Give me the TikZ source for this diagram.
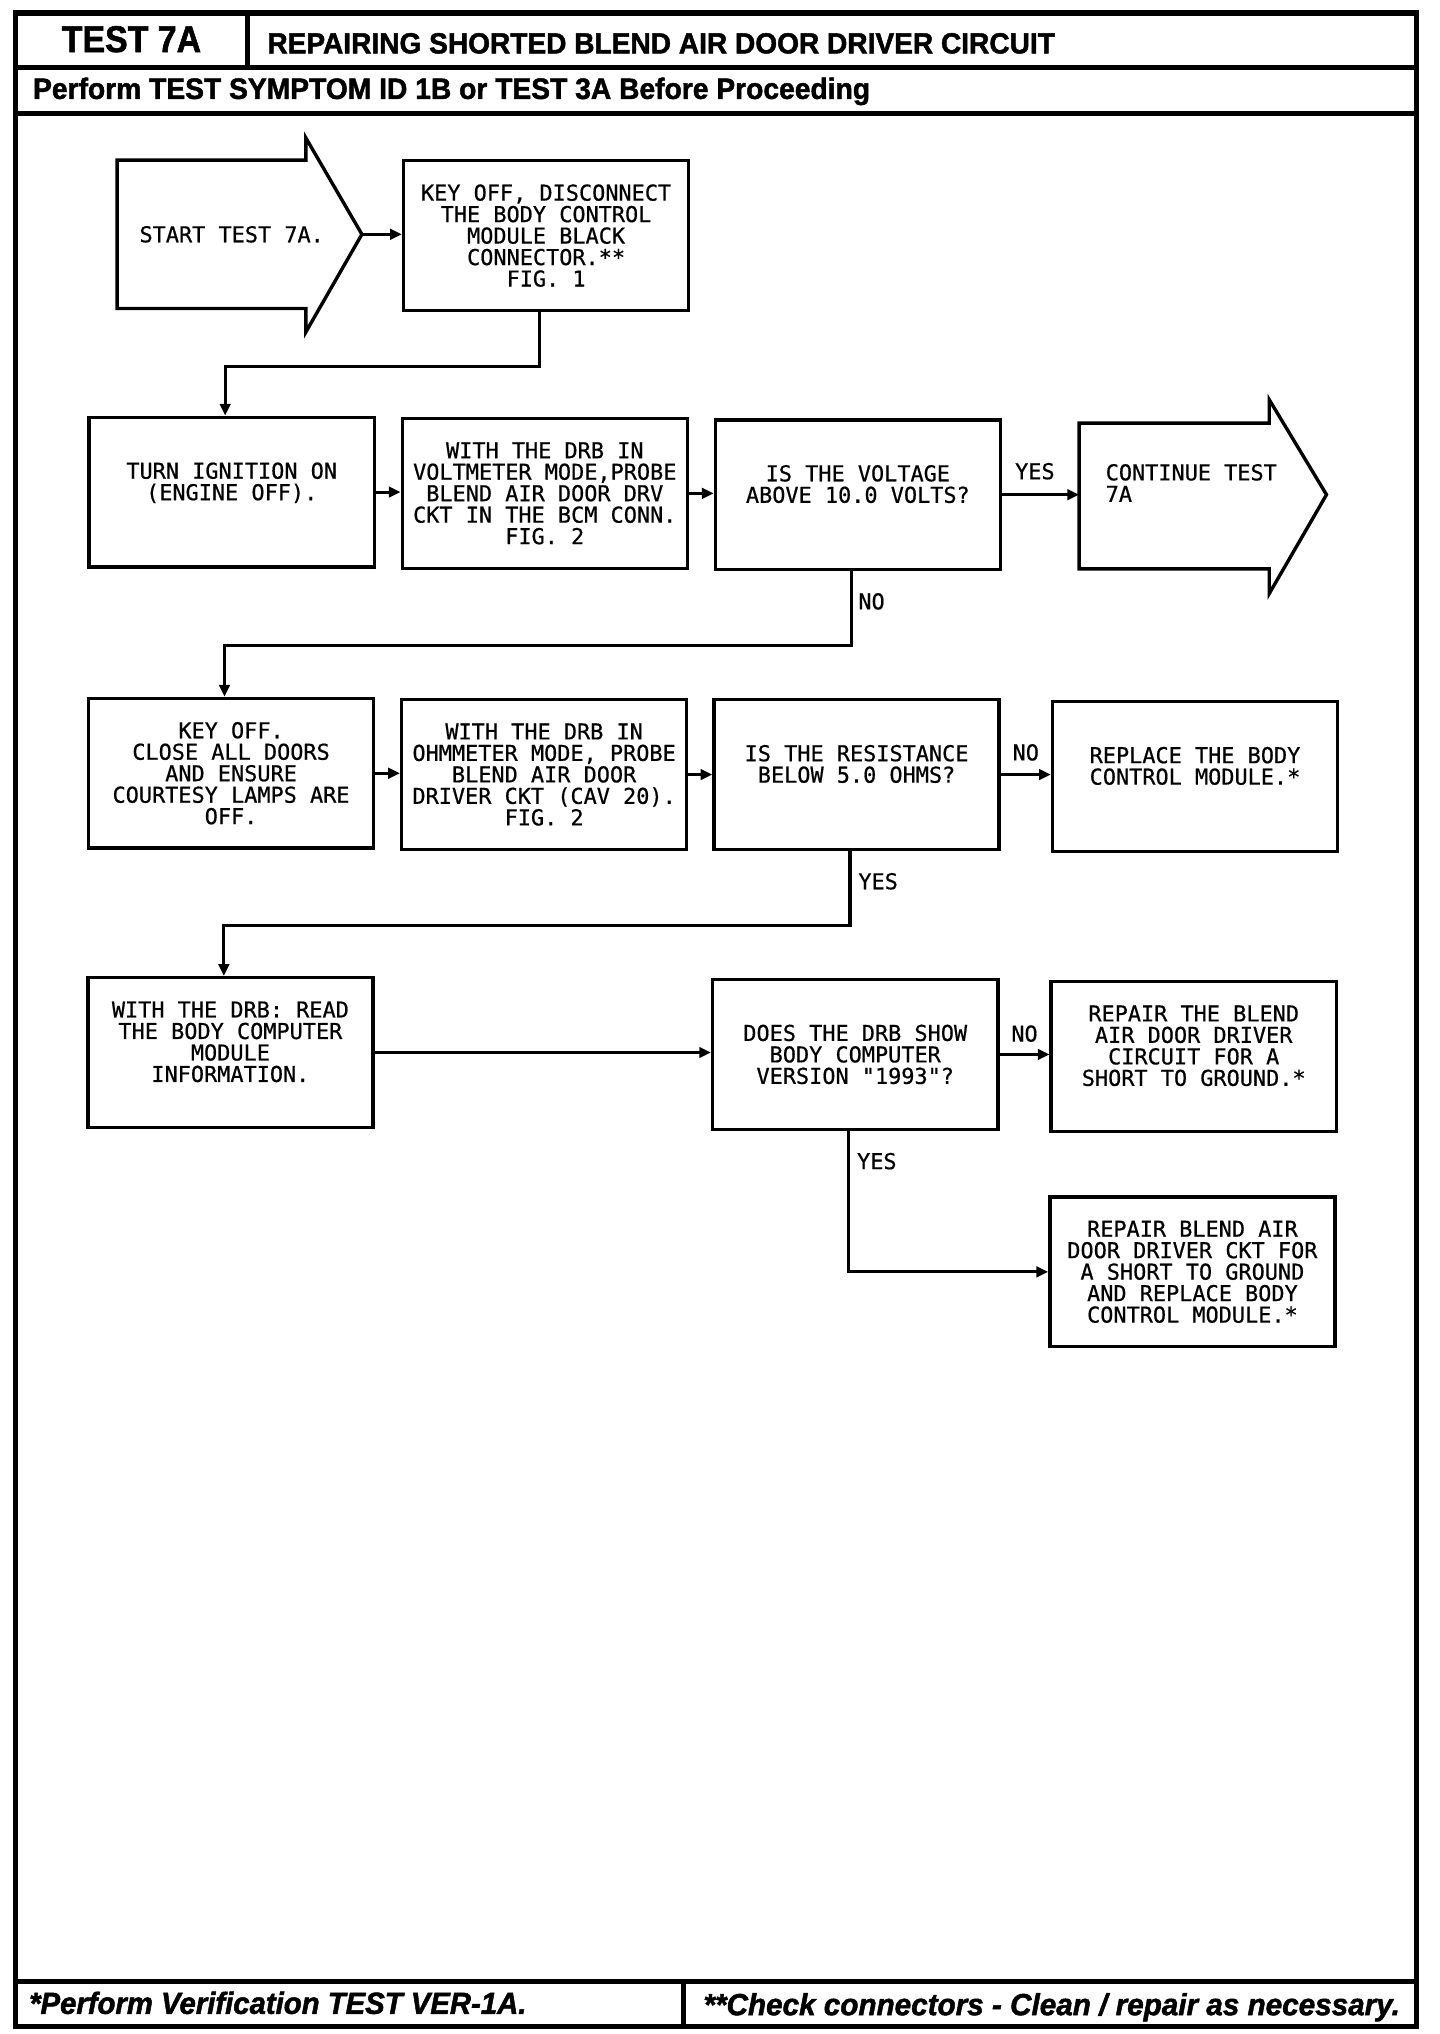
\documentclass[tikz,border=0pt]{standalone}
\usepackage{fontspec}
\usepackage{graphicx}
\usetikzlibrary{arrows.meta}
\newfontfamily\hdrfont[FakeBold=1.6]{Liberation Sans}
\newfontfamily\plotfont[FakeBold=0.6]{DejaVu Sans Mono}
\begin{document}
\begin{tikzpicture}[x=0.5pt,y=-0.5pt,
  frame/.style={line width=2pt},
  box/.style={draw, line width=1.3pt, minimum width=109.5pt, minimum height=57.5pt, inner sep=1pt, align=center, font=\plotfont\fontsize{8.4}{8.25}\selectfont},
  conn/.style={line width=1.2pt, -{Triangle[length=4.5pt,width=4pt]}},
  shapeline/.style={line width=1.3pt, line join=miter},
  lbl/.style={font=\plotfont\fontsize{8.4}{8.25}\selectfont, inner sep=0pt},
  hdr/.style={inner sep=0pt, anchor=base west, font=\hdrfont\bfseries},
]
\fill[white] (0,0) rectangle (1106,1562.5);
\useasboundingbox (0,0) rectangle (1106,1562.5);

% frame
\draw[frame] (12,10) rectangle (1088,1557);
\draw[frame] (12,52) -- (1088,52);
\draw[frame] (190,10) -- (190,52);
\draw[frame] (12,87) -- (1088,87);
\draw[frame] (12,1522) -- (1088,1522);
\draw[frame] (525,1522) -- (525,1557);

% header / footer texts
\node[hdr, anchor=base] (t7a) at (101,40) {\resizebox{53.5pt}{10pt}{TEST 7A}};
\node[hdr] (title) at (205,41) {\resizebox{302.5pt}{7.8pt}{REPAIRING SHORTED BLEND AIR DOOR DRIVER CIRCUIT}};
\node[hdr] (pre) at (25,76) {\resizebox{321.5pt}{8.2pt}{Perform TEST SYMPTOM ID 1B or TEST 3A Before Proceeding}};
\node[hdr] (fl) at (22,1547) {\resizebox{191pt}{8.5pt}{\itshape *Perform Verification TEST VER-1A.}};
\node[hdr] (fr) at (540,1548) {\resizebox{267.5pt}{8.5pt}{\itshape **Check connectors - Clean / repair as necessary.}};

% start arrow
\draw[shapeline] (90,123) -- (235,123) -- (235,106) -- (278,180) -- (235,255) -- (235,237) -- (90,237) -- cycle;
\coordinate (stip) at (278,180);
\node[lbl] (stxt) at (178,180) {START TEST 7A.};

% continue arrow
\draw[shapeline] (829,325) -- (975,325) -- (975,307) -- (1019,380) -- (975,456) -- (975,437) -- (829,437) -- cycle;
\coordinate (cin) at (829,380);
\node[lbl, anchor=west, align=left] (ctxt) at (849,371) {CONTINUE TEST\\7A};

% boxes
\node[box] (b1) at (419.5,181) {KEY OFF, DISCONNECT\\THE BODY CONTROL\\MODULE BLACK\\CONNECTOR.**\\FIG. 1};
\node[box] (b2) at (178,378) {TURN IGNITION ON\\(ENGINE OFF).\\\mbox{}};
\node[box] (b3) at (418.5,379) {WITH THE DRB IN\\VOLTMETER MODE,PROBE\\BLEND AIR DOOR DRV\\CKT IN THE BCM CONN.\\FIG. 2};
\node[box] (b4) at (659,380) {IS THE VOLTAGE\\ABOVE 10.0 VOLTS?\\\mbox{}};
\node[box] (b5) at (177.5,594) {KEY OFF.\\CLOSE ALL DOORS\\AND ENSURE\\COURTESY LAMPS ARE\\OFF.};
\node[box] (b6) at (418,595) {WITH THE DRB IN\\OHMMETER MODE, PROBE\\BLEND AIR DOOR\\DRIVER CKT (CAV 20).\\FIG. 2};
\node[box] (b7) at (658,595) {IS THE RESISTANCE\\BELOW 5.0 OHMS?\\\mbox{}};
\node[box] (b8) at (918,596.5) {REPLACE THE BODY\\CONTROL MODULE.*\\\mbox{}};
\node[box] (b9) at (177,808.5) {WITH THE DRB: READ\\THE BODY COMPUTER\\MODULE\\INFORMATION.\\\mbox{}};
\node[box] (b10) at (657,810) {DOES THE DRB SHOW\\BODY COMPUTER\\VERSION "1993"?};
\node[box] (b11) at (917,811.5) {REPAIR THE BLEND\\AIR DOOR DRIVER\\CIRCUIT FOR A\\SHORT TO GROUND.*\\\mbox{}};
\node[box] (b12) at (916,977) {REPAIR BLEND AIR\\DOOR DRIVER CKT FOR\\A SHORT TO GROUND\\AND REPLACE BODY\\CONTROL MODULE.*};

% connectors
\draw[conn] (stip) -- (stip -| b1.west);
\draw[conn] ([xshift=-2.5pt]b1.south) -- ++(0,42) -| ([xshift=-2.5pt]b2.north);
\draw[conn] (b2.east) -- (b2.east -| b3.west);
\draw[conn] (b3.east) -- (b3.east -| b4.west);
\draw[conn] (b4.east) -- (b4.east -| cin);
\node[lbl] (y1) at (795,362) {YES};
\draw[conn] ([xshift=-2.5pt]b4.south) -- ++(0,57) -| ([xshift=-2.5pt]b5.north);
\node[lbl, anchor=west] (n1) at (659,462) {NO};
\draw[conn] (b5.east) -- (b5.east -| b6.west);
\draw[conn] (b6.east) -- (b6.east -| b7.west);
\draw[conn] (b7.east) -- (b7.east -| b8.west);
\node[lbl] (n2) at (788,578) {NO};
\draw[conn] ([xshift=-2.5pt]b7.south) -- ++(0,57) -| ([xshift=-2.5pt]b9.north);
\node[lbl, anchor=west] (y2) at (659,677) {YES};
\draw[conn] (b9.east) -- (b9.east -| b10.west);
\draw[conn] (b10.east) -- (b10.east -| b11.west);
\node[lbl] (n3) at (787,794) {NO};
\draw[conn] ([xshift=-2.5pt]b10.south) |- (b12.west);
\node[lbl, anchor=west] (y3) at (658,892) {YES};
\end{tikzpicture}
\end{document}
